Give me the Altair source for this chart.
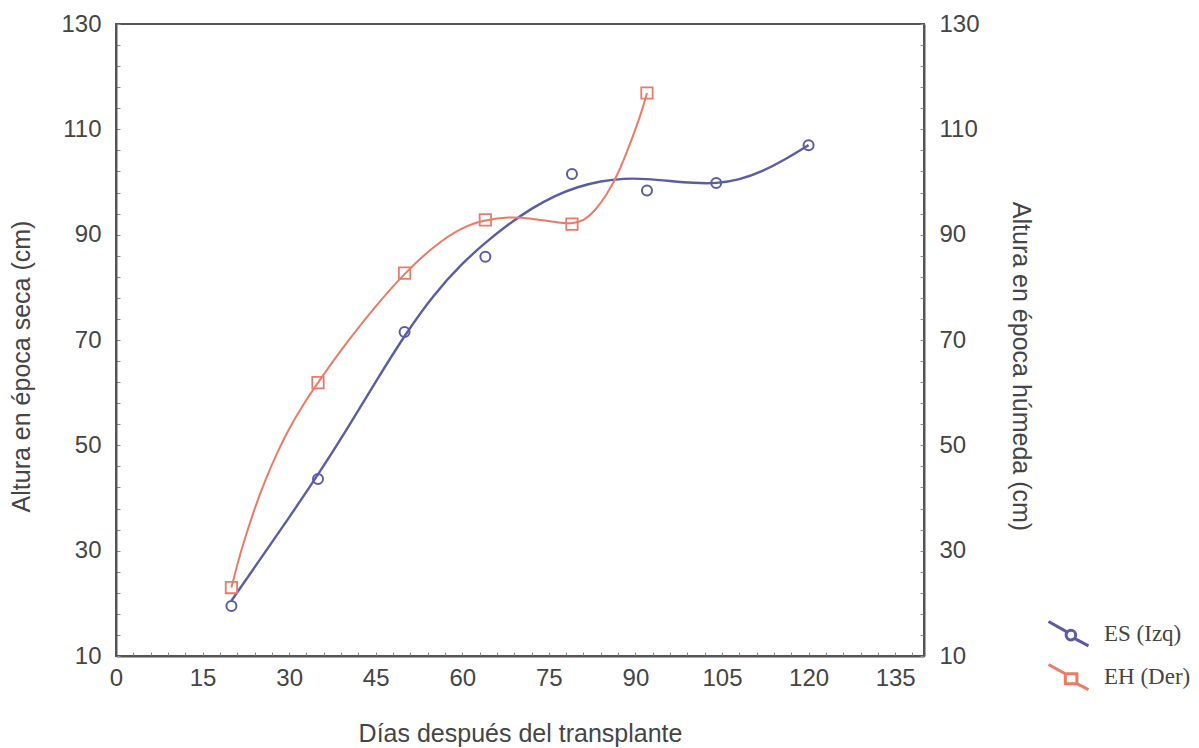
import altair as alt
import pandas as pd

# --- data ---
dias_es = [20, 35, 50, 64, 79, 92, 104, 120]
altura_es = [19.5, 43.6, 71.5, 85.8, 101.5, 98.4, 99.8, 107.0]
dias_eh = [20, 35, 50, 64, 79, 92]
altura_eh = [23.0, 61.9, 82.7, 92.8, 92.0, 116.9]

# fitted curves
curva_es_x = [20, 25, 30, 35, 40, 45, 50, 55, 60, 64, 68, 72, 76, 80, 84, 88, 92, 96, 100, 104, 108, 112, 116, 120]
curva_es_y = [20.5, 28.4, 36.3, 44.4, 53.0, 62.1, 70.9, 78.6, 84.6, 88.5, 92.0, 95.0, 97.4, 99.1, 100.2, 100.7, 100.6, 100.2, 99.8, 99.7, 100.4, 102.0, 104.3, 107.0]
curva_eh_x = [20, 21, 22, 24, 26, 28, 30, 32, 35, 40, 45, 50, 55, 60, 64, 68, 72, 76, 79, 81, 83, 85, 87, 89, 91, 92]
curva_eh_y = [23.0, 27.3, 31.2, 38.0, 43.8, 48.8, 53.2, 57.0, 62.0, 69.6, 76.5, 82.7, 87.8, 91.5, 92.8, 93.4, 93.1, 92.4, 92.0, 92.6, 94.5, 97.5, 101.5, 107.0, 113.0, 116.9]

series = ["ES (Izq)", "EH (Der)"]
x_ticks = list(range(0, 141, 3))
y_ticks = list(range(10, 131, 4))

BLUE = "#5a5da6"
RED = "#ec7a66"
TXT = "#454545"
FRAME = "#555555"

pts_es = pd.DataFrame({"dia": dias_es, "altura": altura_es})
pts_eh = pd.DataFrame({"dia": dias_eh, "altura": altura_eh})
cur_es = pd.DataFrame({"dia": curva_es_x, "altura": curva_es_y})
cur_eh = pd.DataFrame({"dia": curva_eh_x, "altura": curva_eh_y})

inward = alt.ExprRef(expr="-4")

x_enc = alt.X(
    "dia:Q",
    scale=alt.Scale(domain=[0, 140], nice=False, zero=False),
    axis=alt.Axis(values=x_ticks, labelExpr="datum.value % 15 === 0 ? datum.label : ''",
                  title="Días después del transplante", titlePadding=31, labelPadding=14,
                  tickSize=inward, labelFlush=False, labelOverlap=False),
)

ylab = "(datum.value - 10) % 20 === 0 ? datum.label : ''"
y_left = alt.Y(
    "altura:Q",
    scale=alt.Scale(domain=[10, 130], nice=False, zero=False),
    axis=alt.Axis(values=y_ticks, labelExpr=ylab, orient="left", title="Altura en época seca (cm)",
                  titlePadding=26, labelPadding=19, tickSize=inward, labelFlush=False, labelOverlap=False,
                  titleY=342),
)
y_right = alt.Y(
    "altura:Q",
    scale=alt.Scale(domain=[10, 130], nice=False, zero=False),
    axis=alt.Axis(values=y_ticks, labelExpr=ylab, orient="right", title="Altura en época húmeda (cm)",
                  titlePadding=28, labelPadding=19, tickSize=inward, labelFlush=False, labelOverlap=False,
                  titleY=342),
)

line_es = alt.Chart(cur_es).mark_line(color=BLUE, strokeWidth=2.4, interpolate="basis").encode(x=x_enc, y=y_left)
dots_es = alt.Chart(pts_es).mark_point(shape="circle", filled=False, color=BLUE, size=100, strokeWidth=2, opacity=1).encode(x=x_enc, y=y_left)
line_eh = alt.Chart(cur_eh).mark_line(color=RED, strokeWidth=2, interpolate="basis").encode(x=x_enc, y=y_right)
dots_eh = alt.Chart(pts_eh).mark_point(shape="square", filled=False, color=RED, size=130, strokeWidth=1.8, opacity=1).encode(x=x_enc, y=y_right)

left = alt.layer(line_es, dots_es)
right = alt.layer(line_eh, dots_eh)

circle_sym = "M-1,-0.6L-0.08,-0.08M0.32,0.26L1,0.62M0.36,0.08A0.24,0.24 0 1,1 -0.12,0.08A0.24,0.24 0 1,1 0.36,0.08"
square_sym = "M-1,-0.6L-0.16,-0.14M0.42,0.36L1,0.66M-0.16,-0.14L0.42,-0.14L0.42,0.36L-0.16,0.36Z"

legend_layer = (
    alt.Chart(pd.DataFrame({"serie": series}))
    .mark_point(filled=False, opacity=1, strokeWidth=3)
    .encode(
        color=alt.Color("serie:N", scale=alt.Scale(domain=series, range=[BLUE, RED]),
                        legend=alt.Legend(title=None, orient="none", legendX=931, legendY=588,
                                          symbolSize=1600, symbolStrokeWidth=3,
                                          labelFont="Liberation Serif", labelFontSize=23,
                                          labelColor=TXT, rowPadding=3, labelOffset=14)),
        shape=alt.Shape("serie:N", scale=alt.Scale(domain=series, range=[circle_sym, square_sym])),
    )
    .transform_filter("false")
)

chart = (
    alt.layer(left, right, legend_layer)
    .resolve_scale(y="independent")
    .properties(width=808, height=632,
                autosize=alt.AutoSizeParams(type="none"),
                padding={"left": 108, "top": 16, "right": 266, "bottom": 92})
    .configure_view(stroke=FRAME, strokeWidth=2)
    .configure_axis(
        grid=False,
        ticks=True,
        tickColor="#8a8a8a",
        tickWidth=1,
        domainColor=FRAME,
        domainWidth=2,
        labelFont="Liberation Sans",
        labelFontSize=24,
        labelColor=TXT,
        titleFont="Liberation Sans",
        titleFontSize=25,
        titleFontWeight="normal",
        titleColor=TXT,
    )
)

chart.save("out.html", embed_options={"renderer": "svg", "actions": False})
